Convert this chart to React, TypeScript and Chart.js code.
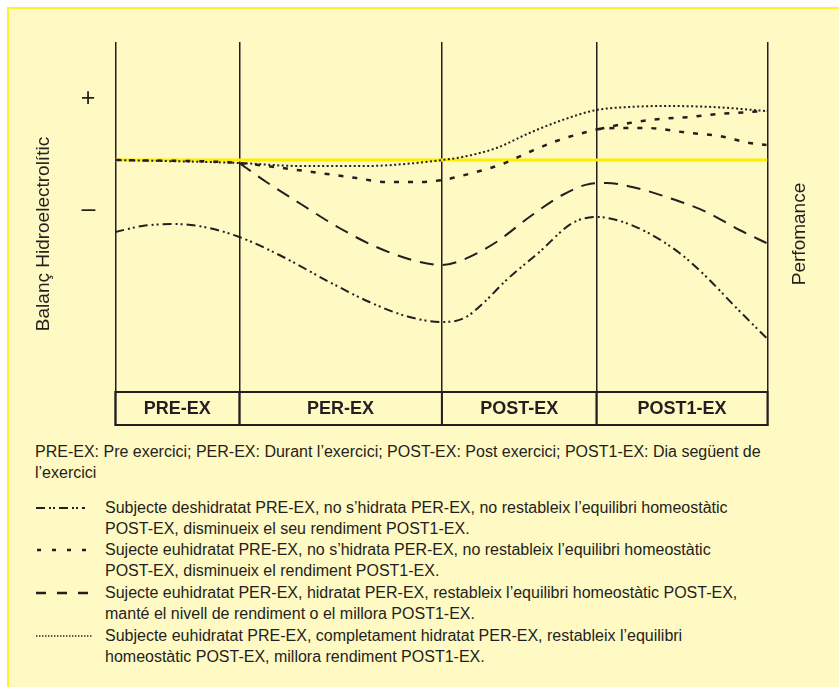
import React, { useEffect, useRef } from 'react';
import { Chart, registerables } from 'chart.js';

Chart.register(...registerables);

// ---- data ----
const phaseLabels = ['PRE-EX', 'PER-EX', 'POST-EX', 'POST1-EX'];
const phaseBoundaries = [0, 124, 326.5, 481, 652];
const yTickValues = [61, -50];
const yTickLabels = ['+', '–'];
const bandTopValue = -232;

const baseline: number[][] = [[0, 0], [652, 0]];

const deshidratat: number[][] = [
  [0, -72], [27, -66], [59, -64], [89, -67], [124, -77], [164, -95], [214, -122],
  [254, -142], [294, -157], [327, -162], [349, -158], [369, -142], [391, -120],
  [424, -92], [457, -63], [481, -57], [501, -60], [531, -72], [564, -93],
  [591, -117], [621, -148], [651, -178],
];

const noHidrata: number[][] = [
  [0, 0], [124, -3], [151, -6], [197, -12], [241, -18], [271, -22], [301, -22],
  [327, -20], [357, -13], [387, -4], [414, 8], [441, 19], [471, 28], [484, 31],
  [508, 32], [531, 32], [574, 27], [604, 24], [634, 17], [651, 15],
];

const noHidrataBranch: number[][] = [
  [484, 31], [498, 34], [514, 37], [544, 41], [574, 43], [604, 46], [634, 48], [651, 49],
];

const hidratat: number[][] = [
  [124, -3], [131, -8], [151, -22], [187, -45], [224, -68], [261, -87], [297, -100],
  [327, -105], [347, -100], [381, -82], [414, -57], [447, -35], [474, -24],
  [491, -23], [521, -28], [554, -38], [591, -52], [624, -70], [651, -83],
];

const completament: number[][] = [
  [0, 0], [124, -3], [184, -6], [251, -6], [301, -3], [327, 0], [347, 3], [381, 12],
  [414, 27], [447, 40], [481, 50], [514, 53], [547, 54], [597, 53], [651, 49],
];

const yAxisTitle = 'Balanç Hidroelectrolític';
const rightTitle = 'Perfomance';

const noteLines = [
  'PRE-EX: Pre exercici; PER-EX: Durant l’exercici; POST-EX: Post exercici; POST1-EX: Dia següent de',
  'l’exercici',
];

const legendTexts = [
  ['Subjecte deshidratat PRE-EX, no s’hidrata PER-EX, no restableix l’equilibri homeostàtic', 'POST-EX, disminueix el seu rendiment POST1-EX.'],
  ['Sujecte euhidratat PRE-EX, no s’hidrata PER-EX, no restableix l’equilibri homeostàtic', 'POST-EX, disminueix el rendiment POST1-EX.'],
  ['Sujecte euhidratat PER-EX, hidratat PER-EX, restableix l’equilibri homeostàtic POST-EX,', 'manté el nivell de rendiment o el millora POST1-EX.'],
  ['Subjecte euhidratat PRE-EX, completament hidratat PER-EX, restableix l’equilibri', 'homeostàtic POST-EX, millora rendiment POST1-EX.'],
];

// ---- styles ----
const INK = '#231f20';
const FONT = '"Liberation Sans", Arial, Helvetica, sans-serif';
const dashA = [9, 4, 2, 3, 2, 4];
const dashB = [5, 9];
const dashC = [14, 9];
const dashD = [2, 2.5];

const toPts = (arr: number[][]) => arr.map(([x, y]) => ({ x, y }));

const bandPlugin = {
  id: 'phaseBand',
  afterDatasetsDraw(chart: any) {
    const { ctx, chartArea, scales } = chart;
    const xs = scales.x;
    const ys = scales.y;
    const top = ys.getPixelForValue(bandTopValue);
    const bottom = chartArea.bottom - 1;
    const left = xs.getPixelForValue(phaseBoundaries[0]);
    const right = xs.getPixelForValue(phaseBoundaries[phaseBoundaries.length - 1]);
    ctx.save();
    ctx.strokeStyle = INK;
    ctx.lineWidth = 2;
    ctx.strokeRect(left, top, right - left, bottom - top);
    for (let i = 1; i < phaseBoundaries.length - 1; i++) {
      const px = xs.getPixelForValue(phaseBoundaries[i]);
      ctx.beginPath();
      ctx.moveTo(px, top);
      ctx.lineTo(px, bottom);
      ctx.stroke();
    }
    ctx.fillStyle = INK;
    ctx.font = `bold 18px ${FONT}`;
    ctx.textAlign = 'center';
    ctx.textBaseline = 'middle';
    for (let i = 0; i < phaseLabels.length; i++) {
      const cx = (xs.getPixelForValue(phaseBoundaries[i]) + xs.getPixelForValue(phaseBoundaries[i + 1])) / 2;
      ctx.fillText(phaseLabels[i], cx, (top + bottom) / 2 + 1);
    }
    // right side title
    ctx.font = `19px ${FONT}`;
    ctx.translate(right + 32.5, (chartArea.top + chartArea.bottom) / 2);
    ctx.rotate(-Math.PI / 2);
    ctx.fillText(rightTitle, 0, 0);
    ctx.restore();
  },
};

function Sample({ dash, width, x1, x2 }: { dash: number[]; width: number; x1: number; x2: number }) {
  return (
    <svg width={64} height={10} style={{ position: 'absolute', left: 26, top: 6 }}>
      <line x1={x1} y1={5} x2={x2} y2={5} stroke={INK} strokeWidth={width} strokeDasharray={dash.join(' ')} />
    </svg>
  );
}

const legendDashes = [
  { dash: [9, 4, 2, 2, 2, 4], width: 2, x1: 1, x2: 50 },
  { dash: [4, 11], width: 2.5, x1: 2, x2: 51 },
  { dash: [10, 11], width: 2.5, x1: 1, x2: 53 },
  { dash: [1.4, 1.6], width: 1.6, x1: 1, x2: 58 },
];

export default function App() {
  const canvasRef = useRef<HTMLCanvasElement | null>(null);

  useEffect(() => {
    document.body.style.margin = '0';
    document.body.style.overflow = 'hidden';
    const canvas = canvasRef.current;
    if (!canvas) return;
    const lineDs = (label: string, data: number[][], dash: number[], width: number) => ({
      label,
      data: toPts(data),
      borderColor: INK,
      borderWidth: width,
      borderDash: dash,
      pointRadius: 0,
      fill: false,
      cubicInterpolationMode: 'monotone' as const,
    });
    const chart = new Chart(canvas, {
      type: 'line',
      data: {
        datasets: [
          lineDs('deshidratat', deshidratat, dashA, 2),
          lineDs('noHidrata', noHidrata, dashB, 2.5),
          lineDs('noHidrataBranch', noHidrataBranch, dashB, 2.5),
          lineDs('hidratat', hidratat, dashC, 2),
          lineDs('completament', completament, dashD, 2),
          {
            label: 'baseline',
            data: toPts(baseline),
            borderColor: '#FFEE00',
            borderWidth: 3,
            pointRadius: 0,
            fill: false,
          },
        ],
      },
      options: {
        animation: false,
        responsive: false,
        maintainAspectRatio: false,
        devicePixelRatio: 1,
        layout: { padding: { left: 0, right: 71.5, top: 33, bottom: 13 } },
        plugins: { legend: { display: false }, tooltip: { enabled: false } },
        scales: {
          x: {
            type: 'linear',
            min: phaseBoundaries[0],
            max: phaseBoundaries[phaseBoundaries.length - 1],
            afterBuildTicks: (s: any) => {
              s.ticks = phaseBoundaries.map((v) => ({ value: v }));
            },
            afterFit: (s: any) => {
              s.height = 0;
              s.paddingLeft = 0;
              s.paddingRight = 0;
            },
            ticks: { display: false },
            border: { display: false },
            grid: { color: INK, lineWidth: 1.5, drawTicks: false },
          },
          y: {
            type: 'linear',
            min: -266,
            max: 118,
            afterBuildTicks: (s: any) => {
              s.ticks = yTickValues.map((v) => ({ value: v }));
            },
            afterFit: (s: any) => {
              s.width = 106.3;
              s.paddingTop = 0;
              s.paddingBottom = 0;
            },
            ticks: {
              padding: 20,
              color: INK,
              font: { family: FONT, size: 25 },
              callback: (v: any) => {
                const i = yTickValues.indexOf(Number(v));
                return i >= 0 ? yTickLabels[i] : '';
              },
            },
            border: { display: false },
            grid: { display: false, drawTicks: false },
            title: {
              display: true,
              text: yAxisTitle,
              color: INK,
              font: { family: FONT, size: 19 },
              padding: { top: 23.8, bottom: 0 },
            },
          },
        },
      },
      plugins: [bandPlugin],
    });
    return () => chart.destroy();
  }, []);

  return (
    <div
      style={{
        position: 'absolute',
        left: 7,
        top: 7,
        width: 832,
        height: 680,
        boxSizing: 'border-box',
        background: '#FFF9C4',
        borderTop: '2px solid #FFF033',
        borderLeft: '2px solid #FFF033',
        fontFamily: FONT,
        color: INK,
      }}
    >
      <canvas ref={canvasRef} width={830} height={430} style={{ position: 'absolute', left: 0, top: 0, width: 830, height: 430 }} />
      <div style={{ position: 'absolute', left: 26, top: 433, fontSize: 16, lineHeight: '20.5px', whiteSpace: 'nowrap' }}>
        {noteLines.map((l, i) => (
          <div key={i}>{l}</div>
        ))}
      </div>
      {legendTexts.map((lines, i) => (
        <div key={i} style={{ position: 'absolute', left: 0, top: 487.5 + i * 42.7, width: 820, height: 43 }}>
          <Sample dash={legendDashes[i].dash} width={legendDashes[i].width} x1={legendDashes[i].x1} x2={legendDashes[i].x2} />
          <div style={{ position: 'absolute', left: 96, top: 0, fontSize: 16, lineHeight: '21.3px', whiteSpace: 'nowrap' }}>
            <div>{lines[0]}</div>
            <div>{lines[1]}</div>
          </div>
        </div>
      ))}
    </div>
  );
}
